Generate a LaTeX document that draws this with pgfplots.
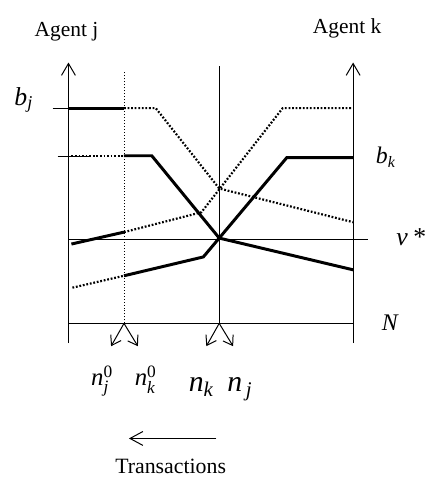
\documentclass[border=0pt]{standalone}
\usepackage{amsmath}
\usepackage{fontspec}
\setmainfont{Liberation Serif}
\usepackage{pgfplots}
\pgfplotsset{compat=1.18}
\usetikzlibrary{arrows.meta}

% italic text-font letters for math labels
\newcommand\mi[1]{\text{\itshape #1}}

\tikzset{
  thinline/.style={line width=0.5pt, black},
  heavy/.style={line width=1.5pt, black},
  dots/.style={line width=1.1pt, black, dash pattern=on 0.9pt off 0.9pt},
  guide/.style={line width=0.5pt, black, dash pattern=on 0.5pt off 1pt},
  axarrow/.style={-{Straight Barb[length=6pt,width=7pt]}},
  smallarrow/.style={-{Straight Barb[length=4.5pt,width=6pt]}},
}

\begin{document}
\begin{tikzpicture}
\begin{axis}[
  scale only axis, width=214.5pt, height=240pt,
  xmin=0, xmax=429, ymin=0, ymax=480, y dir=reverse,
  hide axis, clip=false]

% frame: agent axes, middle line, guide, v* and N lines
\addplot[thinline, axarrow] coordinates {(69,346) (69,63)};
\addplot[thinline, axarrow] coordinates {(356,346) (356,63)};
\addplot[thinline] coordinates {(221,326) (221,67)};
\addplot[guide] coordinates {(125,326) (125,73)};
\addplot[thinline] coordinates {(70,241) (371,241)};
\addplot[thinline] coordinates {(69,326) (356,326)};
\addplot[thinline] coordinates {(53,109) (69,109)};
\addplot[thinline] coordinates {(58,158) (92,158)};

% agent j, high
\addplot[heavy] coordinates {(69,109) (125,109)};
\addplot[dots] coordinates {(125,109) (157,109) (221,190) (356,224)};
% agent j, low
\addplot[dots] coordinates {(72,157) (125,157)};
\addplot[heavy] coordinates {(125,157) (153,157) (221,240) (356,272)};
% agent k, high
\addplot[heavy] coordinates {(72,246) (125,234)};
\addplot[dots] coordinates {(125,234) (203,214) (285,109) (354,109)};
% agent k, low
\addplot[dots] coordinates {(73,290) (125,278)};
\addplot[heavy] coordinates {(125,278) (205,259) (221,240) (289,159) (356,159)};

% arrows under N
\addplot[thinline, smallarrow] coordinates {(125,326) (112,349)};
\addplot[thinline, smallarrow] coordinates {(125,326) (139,349)};
\addplot[thinline, smallarrow] coordinates {(221,326) (208,349)};
\addplot[thinline, smallarrow] coordinates {(221,326) (235,349)};

% transactions arrow
\addplot[thinline, -{Straight Barb[length=6.5pt,width=7pt]}] coordinates {(218,442) (130,442)};

% text
\node[anchor=base, font=\fontsize{10.8}{13}\selectfont] at (67,37) {Agent j};
\node[anchor=base, font=\fontsize{10.8}{13}\selectfont] at (350,34) {Agent k};
\node[anchor=base, font=\fontsize{11}{13}\selectfont] at (172,477) {Transactions};

\node[anchor=base, font=\fontsize{13}{15}\selectfont] at (24,106) {$\mi{b}_{\mi{j}}$};
\node[anchor=base, font=\fontsize{12}{14}\selectfont] at (389,165) {$\mi{b}_{\mi{k}}$};
\node[anchor=base, font=\fontsize{13}{15}\selectfont] at (414,247) {\itshape v\,*};
\node[anchor=base, font=\fontsize{12}{14}\selectfont] at (393,333) {\itshape N};

\node[anchor=base, font=\fontsize{12.5}{15}\selectfont] at (103,389) {$\mi{n}^{\text{0}}_{\mi{j}}$};
\node[anchor=base, font=\fontsize{12.5}{15}\selectfont] at (147,389) {$\mi{n}^{\text{0}}_{\mi{k}}$};
\node[anchor=base, font=\fontsize{15}{18}\selectfont] at (203,395) {$\mi{n}_{\mi{k}}$};
\node[anchor=base, font=\fontsize{15}{18}\selectfont] at (242,395) {$\mi{n}_{\,\mi{j}}$};

\path (0,0) rectangle (429,480);
\end{axis}
\end{tikzpicture}
\end{document}
